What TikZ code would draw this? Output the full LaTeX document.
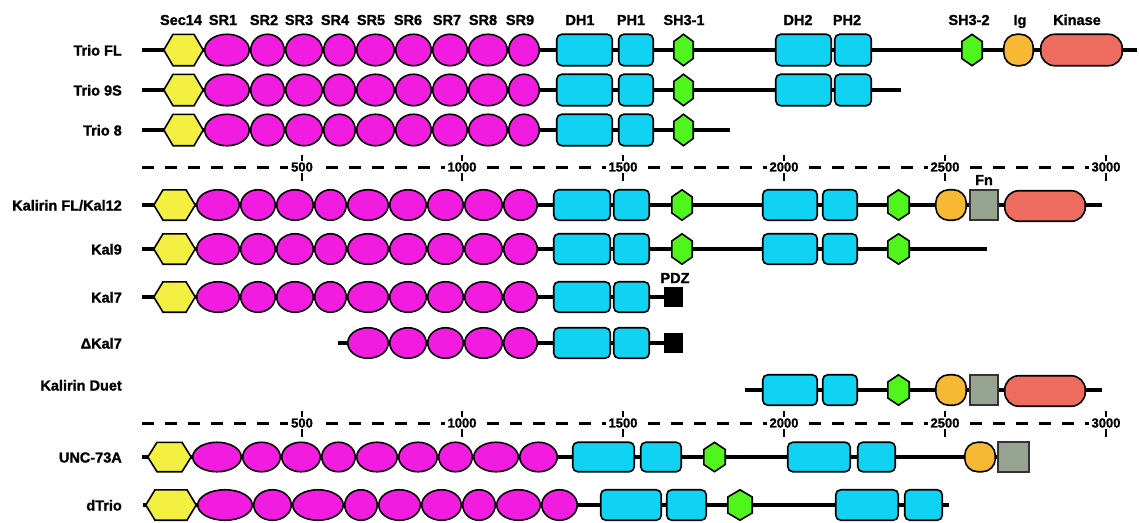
\documentclass[tikz,border=0pt]{standalone}
\usepackage{fontspec}
\setmainfont{Liberation Sans}[BoldFeatures={FakeBold=1.3}]
\usetikzlibrary{shapes.geometric}
\definecolor{secY}{HTML}{F4F042}
\definecolor{srM}{HTML}{F21BE0}
\definecolor{dhC}{HTML}{10D2F2}
\definecolor{shG}{HTML}{50F51C}
\definecolor{igO}{HTML}{F7B933}
\definecolor{fnG}{HTML}{97A391}
\definecolor{kiR}{HTML}{EE6B5F}
% name, x1, x2, y, height
\newcommand\hexS[5]{%
  \draw[sec] ({#2+0.8},#4) -- ({#2+10},{#4-#5/2+0.8}) -- ({#3-10},{#4-#5/2+0.8}) -- ({#3-0.8},#4)
     -- ({#3-10},{#4+#5/2-0.8}) -- ({#2+10},{#4+#5/2-0.8}) -- cycle;
  \coordinate (#1) at ({(#2+#3)/2},#4);}
\newcommand\hexV[5]{%
  \draw[shg] ({(#2+#3)/2},{#4-#5/2+0.8}) -- ({#3-0.8},{#4-#5/2+8}) -- ({#3-0.8},{#4+#5/2-8})
     -- ({(#2+#3)/2},{#4+#5/2-0.8}) -- ({#2+0.8},{#4+#5/2-8}) -- ({#2+0.8},{#4-#5/2+8}) -- cycle;
  \coordinate (#1) at ({(#2+#3)/2},#4);}
\newcommand\srE[5]{\node[sr, minimum width={(#3-#2-1.5)*1pt}, minimum height={(#5-1.5)*1pt}] (#1) at ({(#2+#3)/2},#4) {};}
\newcommand\boxR[6]{\node[#6, minimum width={(#3-#2-1.5)*1pt}, minimum height={(#5-1.5)*1pt}] (#1) at ({(#2+#3)/2},#4) {};}
\begin{document}
\begin{tikzpicture}[x=1pt,y=-1pt,
  bb/.style={line width=3.2pt},
  shp/.style={draw=black, line width=1.6pt},
  sr/.style={shp, ellipse, fill=srM, inner sep=0},
  dh/.style={shp, rectangle, rounded corners=5pt, fill=dhC, inner sep=0},
  ig/.style={shp, rectangle, rounded corners=13pt, fill=igO, inner sep=0},
  kin/.style={shp, rectangle, rounded corners=14pt, fill=kiR, inner sep=0},
  fn/.style={draw=black!80, line width=1.6pt, rectangle, fill=fnG, inner sep=0},
  pdz/.style={rectangle, fill=black, inner sep=0},
  sec/.style={shp, fill=secY, line join=miter},
  shg/.style={shp, fill=shG},
  lab/.style={font=\bfseries\fontsize{14.5}{16}\selectfont, inner sep=0},
  num/.style={font=\bfseries\fontsize{13}{14}\selectfont, fill=white, inner xsep=3pt, inner ysep=1pt},
  scl/.style={line width=3pt, dash pattern=on 12pt off 11pt},
  tck/.style={line width=2pt}]
\useasboundingbox (0,0) rectangle (1139,522);

% ---------- header labels ----------
\foreach \t/\x [count=\i] in {Sec14/181,SR1/223,SR2/264,SR3/299,SR4/335,SR5/371,SR6/408,SR7/447,SR8/483,SR9/520,DH1/580,PH1/631,SH3-1/684,DH2/798,PH2/847,SH3-2/969,Ig/1020,Kinase/1077}
  {\node[lab, anchor=base] (hd\i) at (\x,25) {\t};}

% ---------- row labels ----------
\foreach \t/\y [count=\i] in {{Trio FL}/50,{Trio 9S}/90,{Trio 8}/130,{Kalirin FL/Kal12}/205,{Kal9}/249,{Kal7}/297,{ΔKal7}/343,{Kalirin Duet}/385,{UNC-73A}/457,{dTrio}/505}
  {\node[lab, anchor=base east] (rl\i) at (122,\y+5.5) {\t};}

% ---------- backbones ----------
\coordinate (fl-s) at (142,50);  \coordinate (fl-e) at (1137,50);
\coordinate (s9-s) at (142,90);  \coordinate (s9-e) at (901,90);
\coordinate (t8-s) at (142,130); \coordinate (t8-e) at (730,130);
\coordinate (kfl-s) at (142,205); \coordinate (kfl-e) at (1102,205);
\coordinate (k9-s) at (142,249);  \coordinate (k9-e) at (987,249);
\coordinate (k7-s) at (142,297);  \coordinate (k7-e) at (670,297);
\coordinate (dk-s) at (338,343);  \coordinate (dk-e) at (670,343);
\coordinate (du-s) at (745,390);  \coordinate (du-e) at (1102,390);
\coordinate (un-s) at (142,457);  \coordinate (un-e) at (1000,457);
\coordinate (dt-s) at (143,505);  \coordinate (dt-e) at (949,505);
\foreach \r in {fl,s9,t8,kfl,k9,k7,dk,du,un,dt} {\draw[bb] (\r-s) -- (\r-e);}

% ---------- scales ----------
\foreach \s/\y in {a/167,b/423} {
  \coordinate (sc\s-s) at (142,\y); \coordinate (sc\s-e) at (1106,\y);
  \draw[scl] (sc\s-s) -- (sc\s-e);
  \foreach \v/\x in {500/302,1000/462,1500/623,2000/784,2500/945,3000/1106} {
    \draw[tck] (\x,\y-12) -- (\x,\y+14);
    \node[num] (n\s\v) at (\x,\y) {\v};
  }
}

% ---------- Trio rows ----------
\foreach \r/\y in {fl/50,s9/90,t8/130} {
  \hexS{\r-sec}{163}{204}{\y}{33}
  \foreach \a/\b [count=\i] in {204/250,250/285,285/323,323/356,356/395,395/432,432/468,468/508,508/540}
    {\srE{\r-sr\i}{\a}{\b}{\y}{33}}
  \boxR{\r-dh1}{556}{613}{\y}{33}{dh}
  \boxR{\r-ph1}{618}{654}{\y}{33}{dh}
  \hexV{\r-sh1}{673}{694}{\y}{33}
}
\foreach \r/\y in {fl/50,s9/90} {
  \boxR{\r-dh2}{775}{832}{\y}{33}{dh}
  \boxR{\r-ph2}{834}{872}{\y}{33}{dh}
}
\hexV{fl-sh2}{961}{983}{50}{33}
\boxR{fl-ig}{1003}{1034}{50}{33}{ig}
\boxR{fl-kin}{1040}{1123}{50}{33}{kin}

% ---------- Kalirin rows ----------
\foreach \r/\y in {kfl/205,k9/249,k7/297} {
  \hexS{\r-sec}{153}{196}{\y}{32}
  \foreach \a/\b [count=\i] in {196/240,240/276,276/314,314/347,347/389,389/427,427/464,464/503,503/538}
    {\srE{\r-sr\i}{\a}{\b}{\y}{32}}
}
\foreach \a/\b [count=\i from 5] in {347/389,389/427,427/464,464/503,503/538}
  {\srE{dk-sr\i}{\a}{\b}{343}{32}}
\foreach \r/\y in {kfl/205,k9/249,k7/297,dk/343} {
  \boxR{\r-dh1}{553}{611}{\y}{32}{dh}
  \boxR{\r-ph1}{613}{650}{\y}{32}{dh}
}
\foreach \r/\y in {kfl/205,k9/249} {
  \hexV{\r-sh1}{671}{693}{\y}{32}
}
\foreach \r/\y in {kfl/205,k9/249,du/390} {
  \boxR{\r-dh2}{762}{818}{\y}{32}{dh}
  \boxR{\r-ph2}{822}{858}{\y}{32}{dh}
  \hexV{\r-sh2}{887}{910}{\y}{32}
}
\foreach \r/\y in {kfl/205,du/390} {
  \boxR{\r-ig}{935}{967}{\y}{32}{ig}
  \boxR{\r-fn}{969}{999}{\y}{32}{fn}
  \boxR{\r-kin}{1004}{1086}{\y+1}{32}{kin}
}
\foreach \r/\y in {k7/297,dk/343} {
  \node[pdz, minimum width=19pt, minimum height=20pt] (\r-pdz) at (673.5,\y) {};
}
\node[lab, anchor=base] (pdzlab) at (675,283) {PDZ};
\node[lab, anchor=base] (fnlab) at (984,185) {Fn};

% ---------- UNC-73A ----------
\hexS{un-sec}{147}{192}{457}{31}
\foreach \a/\b [count=\i] in {192/242,242/281,281/321,321/356,356/398,398/438,438/473,473/519,519/558}
  {\srE{un-sr\i}{\a}{\b}{457}{31}}
\boxR{un-dh1}{572}{635}{457}{31}{dh}
\boxR{un-ph1}{640}{682}{457}{31}{dh}
\hexV{un-sh1}{703}{726}{457}{31}
\boxR{un-dh2}{787}{851}{457}{31}{dh}
\boxR{un-ph2}{857}{896}{457}{31}{dh}
\boxR{un-ig}{964}{996}{457}{31}{ig}
\boxR{un-fn}{997}{1030}{457}{31}{fn}

% ---------- dTrio ----------
\hexS{dt-sec}{145}{197}{505}{32}
\foreach \a/\b [count=\i] in {197/253,253/292,292/344,344/378,378/421,421/462,462/496,496/541,541/578}
  {\srE{dt-sr\i}{\a}{\b}{505}{32}}
\boxR{dt-dh1}{600}{662}{505}{32}{dh}
\boxR{dt-ph1}{666}{707}{505}{32}{dh}
\hexV{dt-sh1}{727}{753}{505}{32}
\boxR{dt-dh2}{835}{899}{505}{32}{dh}
\boxR{dt-ph2}{904}{943}{505}{32}{dh}
\end{tikzpicture}
\end{document}
